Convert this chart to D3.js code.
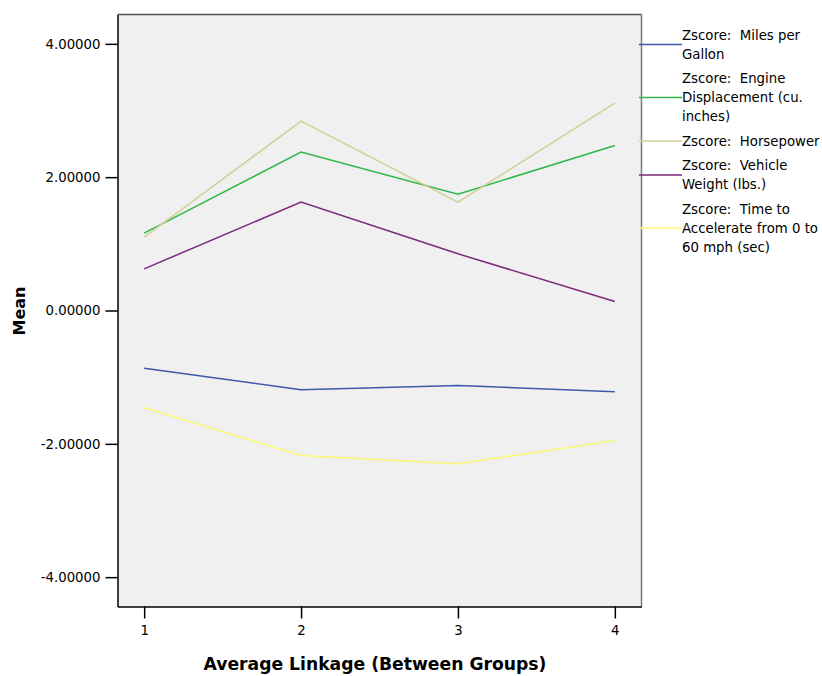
<!DOCTYPE html>
<html><head><meta charset="utf-8">
<script src="https://cdn.jsdelivr.net/npm/d3@7"></script>
<style>body{margin:0;background:#fff}svg{display:block}text{white-space:pre}</style>
</head><body>
<svg id="chart" width="822" height="676"></svg>
<script>
const categories = ["1","2","3","4"];
const seriesNames = [
  ["Zscore:  Miles per","Gallon"],
  ["Zscore:  Engine","Displacement (cu.","inches)"],
  ["Zscore:  Horsepower"],
  ["Zscore:  Vehicle","Weight (lbs.)"],
  ["Zscore:  Time to","Accelerate from 0 to","60 mph (sec)"]
];
const mpg = [-0.865, -1.19, -1.125, -1.22];
const displacement = [1.16, 2.376, 1.746, 2.475];
const horsepower = [1.10, 2.84, 1.626, 3.11];
const weight = [0.625, 1.626, 0.85, 0.135];
const accel = [-1.46, -2.175, -2.30, -1.95];
const yTicks = [-4, -2, 0, 2, 4];
const colors = ["#3e58ac","#2eb848","#d3ce97","#7c287d","#fbf873"];
const seriesValues = [mpg, displacement, horsepower, weight, accel];

const svg = d3.select("#chart");
const L = 117.5, R = 641.5, T = 14.5, B = 606.5;
const x = d3.scalePoint().domain(categories).range([L, R]).padding(0.17);
const y = d3.scaleLinear().domain([-4.44, 4.44]).range([B, T]);

svg.append("rect").attr("x", L).attr("y", T).attr("width", R - L).attr("height", B - T)
  .attr("fill", "#f0f0f0");

const line = d3.line().x((d, i) => x(categories[i])).y(d => y(d));
seriesValues.forEach((vals, k) => {
  svg.append("path").datum(vals).attr("d", line)
    .attr("fill", "none").attr("stroke", colors[k]).attr("stroke-width", 1.5);
});

// frame
svg.append("line").attr("x1", L).attr("x2", R).attr("y1", T).attr("y2", T).attr("stroke", "#555").attr("stroke-width", 1.3);
svg.append("line").attr("x1", R).attr("x2", R).attr("y1", T).attr("y2", B).attr("stroke", "#777").attr("stroke-width", 1.5);

const fmt = d => d3.format(".5f")(d).replace("\u2212", "-");
const yAxis = svg.append("g").attr("transform", `translate(${L},0)`)
  .call(d3.axisLeft(y).tickValues(yTicks).tickSize(12).tickSizeOuter(0).tickPadding(5).tickFormat(fmt));
const xAxis = svg.append("g").attr("transform", `translate(0,${B})`)
  .call(d3.axisBottom(x).tickSize(12).tickSizeOuter(0).tickPadding(7));
[yAxis, xAxis].forEach(g => {
  g.select(".domain").attr("stroke", "#000").attr("stroke-width", 1.5);
  g.selectAll(".tick line").attr("stroke", "#000").attr("stroke-width", 1.5);
  g.selectAll("text").attr("font-family", "DejaVu Sans").attr("font-size", 13.3).attr("fill", "#000");
});

svg.append("text").attr("transform", "translate(25,311) rotate(-90)")
  .attr("text-anchor", "middle").attr("font-family", "DejaVu Sans").attr("font-weight", "bold")
  .attr("font-size", 16).text("Mean");
svg.append("text").attr("x", 375).attr("y", 670)
  .attr("text-anchor", "middle").attr("font-family", "DejaVu Sans").attr("font-weight", "bold")
  .attr("font-size", 17.2).text("Average Linkage (Between Groups)");

// legend
const lineH = 19, gap = 5.5;
let cy = 35;
seriesNames.forEach((lines, k) => {
  const mid = cy + (lines.length - 1) * lineH / 2;
  svg.append("line").attr("x1", 639).attr("x2", 682).attr("y1", mid).attr("y2", mid)
    .attr("stroke", colors[k]).attr("stroke-width", 1.5);
  lines.forEach((t, j) => {
    svg.append("text").attr("x", 682).attr("y", cy + j * lineH).attr("dy", "0.35em")
      .attr("font-family", "DejaVu Sans").attr("font-size", 13.3).attr("fill", "#000").text(t);
  });
  cy += lines.length * lineH + gap;
});
</script>
</body></html>
